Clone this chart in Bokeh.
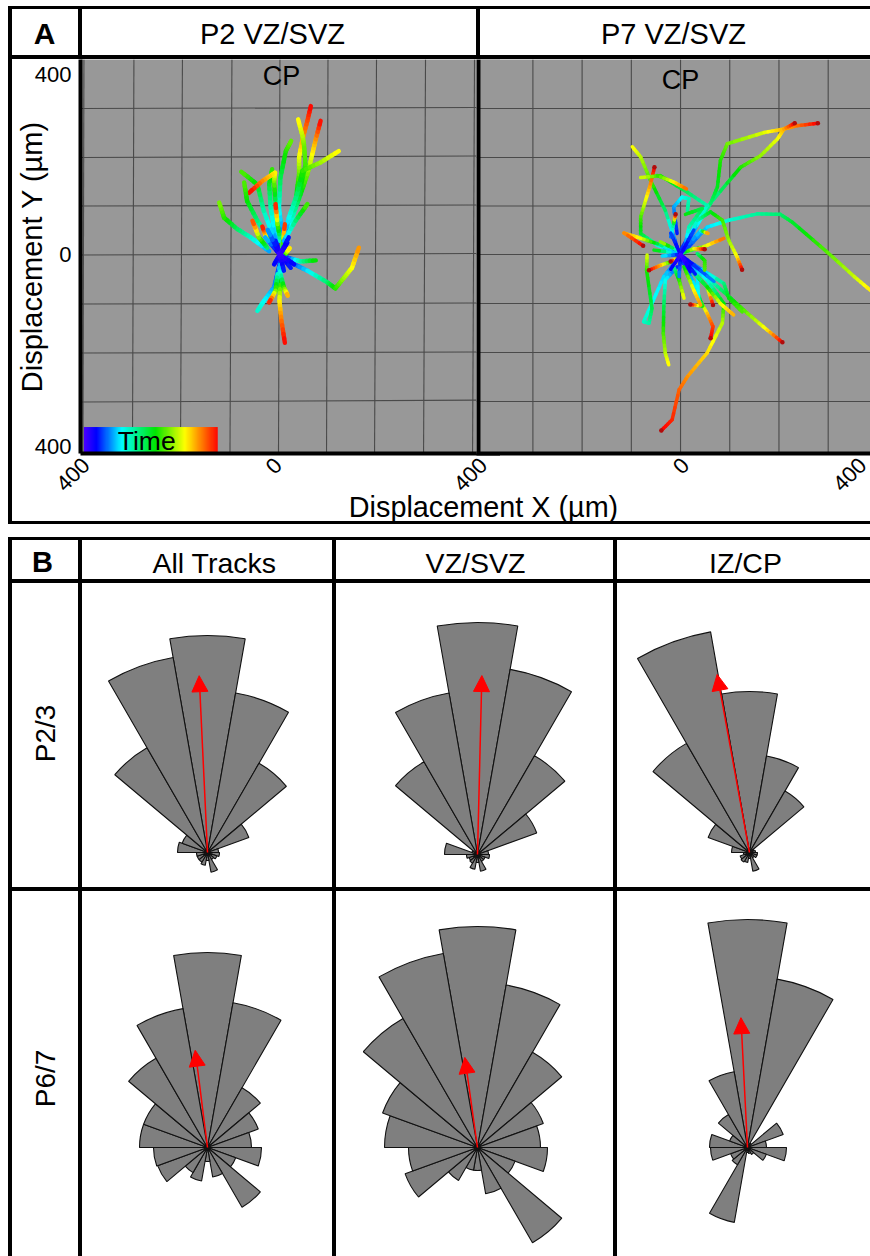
import numpy as np
from bokeh.plotting import figure
from bokeh.layouts import column, row
from bokeh.models import Spacer, FixedTicker, LinearColorMapper, Arrow, NormalHead, Span
from bokeh.embed import file_html
from bokeh.resources import INLINE
from bokeh.core.properties import value

FONT = "Liberation Sans"

# ---------------- panel A: tracks in micrometres, T = time 0..1 along the rainbow
P2_X = [[5,18,32,39,39,46,56,63],[8,25,42,56,66,73,83],[7,22,39,52,49,46,37],[8,18,35,46,83,120],
        [5,-2,1,12,23],[-9,-19,-22,-16],[-5,-33,-46,-79],[-2,-9,-12,-10,-36,-63],[-19,-46,-67,-73],
        [-22,-60,-87,-114,-124],[1,-5,-9],[-26,-43,-56],[-16,-29,-36],[5,10],
        [15,56,97,113,131,147,161],[15,42,73],[6,15,20],[1,-12,-33,-46],[0,1,-1,3,10],[-2,8,16],
        [-5,-9,-22],[8,32,56],[0,15],[0,-16],[0,22],[0,-12],[0,29],[0,8],[0,-9],[0,18],[0,-30],[0,-25]]
P2_Y = [[7,55,109,164,198,235,273,303],[14,75,123,164,205,235,273],[18,69,123,184,225,242,276],[28,75,123,171,188,211],
        [35,96,157,211,232],[35,96,143,174],[14,89,143,169],[28,103,150,167,150,126],[28,69,109,147],
        [7,35,52,75,106],[28,62,103],[14,35,69],[21,38,57],[14,62],
        [-13,-33,-57,-69,-47,-27,14],[-6,-14,-12],[-6,7,13],[-13,-67,-95,-115],[-13,-54,-95,-135,-180],[-27,-67,-84],
        [-40,-74,-98],[28,69,103],[0,24],[0,21],[0,-27],[0,-20],[0,-20],[0,-33],[0,28],[0,35],[0,35],[0,50]]
P2_T = [[.1,.25,.45,.6,.72,.83,.92,1],[.1,.3,.5,.62,.74,.84,1],[.12,.3,.48,.58,.62,.68,.76],[.12,.28,.42,.56,.66,.76],
        [.15,.3,.45,.55,.62],[.2,.35,.48,.58],[.15,.35,.5,.6],[.2,.4,.62,.75,.85,1],[.2,.4,.52,.6],
        [.2,.32,.42,.55,.64],[.3,.6,1],[.4,.6,.95],[.4,.7,1],[.4,1],
        [.1,.25,.42,.55,.66,.74,.86],[.1,.35,.55],[.2,.7,.78],[.1,.2,.28,.33],[.1,.5,.75,.88,1],[.2,.55,.85],
        [.3,.6,1],[.2,.4,.6],[0,.1],[0,.1],[0,.12],[0,.1],[0,.1],[0,.12],[0,.12],[0,.12],[0,.25],[0,.22]]

P7_X = [[7,54,98,156,203,227,298,353,386],[10,54,122,163,197,210,237,279],[14,61,75,81,95,170,210,232],
        [-7,-31,-61,-81,-98],[0,-47,-81,-81,-71,-61,-53],[0,54,14,-41,-81],[-47,-14,12],[-7,-14,3,17,14],
        [-20,-14,-10],[3,34,61,85,98,115,125],[7,17,44,10],[0,-47,-81,-115,-76],[7,47,88],[0,27,49],[3,41,56],
        [0,-34,-61,-75,-64,-58,-69,-68],[0,-20,-41,-64],[0,-20],[-7,-31,-34,-35,-31,-24],
        [14,54,88,85,54,14,-3,-17,-39],[7,31,41,54,66,61],[0,34,37,44,20],[14,68,102,136,176,207],
        [-14,-3,7],[14,54,66],[7,54,81,108],[14,88,98,125],[7,27,41],[0,-54],[0,-41],
        [0,-3],[0,27],[0,-20],[0,68],[0,-37],[34,49,49],[0,-20],[0,20],[0,30]]
P7_Y = [[5,56,70,83,82,66,5,-45,-73],[16,97,178,202,236,256,263,268],[29,104,138,192,226,249,256,268],
        [16,90,151,199,220],[2,19,43,77,111,144,178],[9,100,127,161,157],[161,148,134],[43,97,117,114,90],
        [36,63,82],[5,70,87,70,29,-5,-31],[9,56,94,82],[2,22,33,44,18],[5,16,33],[2,12,11],[5,49,43],
        [-2,-45,-106,-137,-140,-110,-32,-1],[-5,-15,-22,-32],[-5,-14],[-25,-52,-106,-161,-201,-225],
        [-12,-52,-100,-140,-201,-249,-276,-337,-359],[-18,-66,-96,-120,-147,-171],[-12,-45,-93,-105,-102],[-18,-59,-89,-120,-154,-179],
        [-25,-52,-89],[-25,-66,-103],[-12,-66,-100,-123],[-12,-59,-89,-117],[-25,-73,-103],[2,9],[5,26],
        [0,-45],[0,50],[0,44],[0,-55],[0,-3],[2,-12,-32],[0,-30],[0,-35],[0,-40]]
P7_T = [[.1,.25,.32,.38,.42,.48,.6,.7,.77],[.1,.35,.55,.65,.73,.82,.88,1],[.15,.42,.5,.55,.62,.72,.82,1],
        [.1,.42,.58,.68,.75],[.05,.3,.48,.58,.72,.85,1],[.1,.35,.43,.55,.72],[.55,.75,.9],[.1,.2,.28,.34,.38],
        [.15,.4,1],[.1,.35,.5,.58,.65,.75,1],[.1,.35,.45,.52],[.05,.45,.72,.85,1],[.2,.7,.9],[.3,.7,1],[.1,.25,.9],
        [.1,.25,.3,.33,.36,.45,.55,.72],[.1,.5,.8,1],[.3,1],[.1,.28,.45,.58,.68,.76],
        [.1,.3,.52,.68,.78,.85,.9,.96,1],[.1,.28,.5,.8,.93,1],[.1,.25,.3,.5,1],[.15,.35,.5,.62,.76,1],
        [.35,.55,.75],[.3,.6,1],[.2,.5,.72,.83],[.1,.4,.52,.6],[.5,.75,.85],[.1,.55],[.2,.7],
        [.05,.2],[.05,.15],[.05,.15],[.05,.2],[.05,.28],[.4,.55,.6],[0,.1],[0,.08],[0,.12]]

RAINBOW_POS = [0, .09, .28, .53, .75, .86, 1]
RAINBOW_RGB = [(72,0,255),(0,0,255),(0,255,255),(0,230,0),(255,255,0),(255,140,0),(255,0,0)]

GRID_V_TOP = [-400,-298,-199,-98,0,98,197,297,397]
GRID_V_BOT = [-402,-301,-203,-102,-3,95,193,293,393]
GRID_H_LEFT = [298,198,99,-1,-101,-201,-301]
GRID_H_RIGHT = [300,201,101,2,-99,-199,-297]
GRID7_V = [-300,-200,-100,0,100,200,300]
GRID7_H = [298,198,99,0,-100,-200,-300]

# ---------------- panel B: 18 bins of 20 deg, clockwise from north, radii
BIN_DEG = list(range(0, 360, 20))
R_P23_ALL = [217,162,103,44,11,12,10,8,20,8,13,11,11,11,30,27,121,198]
R_P23_VZ  = [232,188,114,63,11,12,8,8,17,8,15,10,9,11,33,6,107,164]
R_P23_IZ  = [161,98,71,5,6,8,8,6,19,6,10,11,10,6,18,44,126,224]
R_P67_ALL = [195,147,69,54,44,54,30,69,30,14,34,29,53,54,68,68,103,141]
R_P67_VZ  = [221,165,110,70,63,70,40,110,47,23,23,38,77,69,93,101,149,197]
R_P67_IZ  = [228,171,5,38,19,39,20,8,6,5,76,20,18,37,38,19,38,77]
ARROW_DEG = [-2.7, 1.4, -10.3, -7.2, -8.0, -2.9]
ARROW_LEN = [177, 179, 181, 98, 91, 130]

A_HEADERS = ["A", "P2 VZ/SVZ", "P7 VZ/SVZ"]
B_COLUMNS = ["B", "All Tracks", "VZ/SVZ", "IZ/CP"]
B_ROWS = ["P2/3", "P6/7"]


def rule(w, h):
    return Spacer(width=w, height=h, styles={"background-color": "black"})


def gap(w, h):
    return Spacer(width=w, height=h)


def cell(x0, y0, x1, y1, texts, clear=False):
    p = figure(width=x1 - x0, height=y1 - y0, x_range=(x0, x1), y_range=(y1, y0),
               x_axis_type=None, y_axis_type=None, toolbar_location=None,
               output_backend="svg", min_border=0, outline_line_color=None)
    p.grid.visible = False
    if clear:
        p.border_fill_color = None
        p.background_fill_color = None
    for tx, ty, s, size, bold, ang in texts:
        p.text([tx], [ty], text=[s], text_font=value(FONT), text_font_size=size,
               text_font_style="bold" if bold else "normal", angle=ang,
               text_align="center", text_baseline="middle", text_color="black")
    return p


def rainbow(t):
    return tuple(int(round(np.interp(t, RAINBOW_POS, [c[i] for c in RAINBOW_RGB]))) for i in range(3))


def draw_tracks(p, xs, ys, ts, lw, dots):
    x0, y0, x1, y1, col = [], [], [], [], []
    ex, ey = [], []
    for X, Y, T in zip(xs, ys, ts):
        for i in range(len(X) - 1):
            for a, b in zip(np.linspace(0, 1, 6)[:-1], np.linspace(0, 1, 6)[1:]):
                x0.append(X[i] + a * (X[i+1] - X[i])); y0.append(Y[i] + a * (Y[i+1] - Y[i]))
                x1.append(X[i] + b * (X[i+1] - X[i])); y1.append(Y[i] + b * (Y[i+1] - Y[i]))
                r, g, bl = rainbow(T[i] + (a + b) / 2 * (T[i+1] - T[i]))
                col.append(f"#{r:02x}{g:02x}{bl:02x}")
        if T[-1] >= 1:
            ex.append(X[-1]); ey.append(Y[-1])
    p.segment(x0, y0, x1, y1, line_color=col, line_width=lw, line_cap="round")
    if dots:
        p.scatter(ex, ey, size=4.5, fill_color="#b00c0c", line_color=None)


def panel_a(x_range, width, left, xticks, xlabels, yticks=None):
    p = figure(width=width, height=454, x_range=x_range, y_range=(-406, 398),
               toolbar_location=None, output_backend="svg",
               y_axis_location="left" if yticks else None,
               min_border_left=left, min_border_right=0, min_border_top=0, min_border_bottom=60,
               background_fill_color="#989898", border_fill_color=None, outline_line_color=None)
    p.grid.visible = False
    ax = p.xaxis[0]
    ax.ticker = FixedTicker(ticks=xticks)
    ax.major_label_overrides = dict(zip(xticks, xlabels))
    ax.major_label_orientation = 0.785
    ax.major_label_text_font = FONT
    ax.major_label_text_font_size = "22px"
    ax.major_label_text_color = "black"
    ax.major_label_standoff = 2
    ax.major_tick_line_color = None
    ax.minor_tick_line_color = None
    ax.axis_line_color = "black"
    ax.axis_line_width = 4
    if yticks:
        ay = p.yaxis[0]
        ay.minor_tick_line_color = None
        ay.major_tick_line_color = None
        ay.axis_line_color = "black"
        ay.axis_line_width = 4
        ay.ticker = FixedTicker(ticks=yticks)
        ay.major_label_overrides = {t: str(abs(l)) for t, l in zip(yticks, [400, 0, 400])}
        ay.major_label_text_font = FONT
        ay.major_label_text_font_size = "22px"
        ay.major_label_text_color = "black"
        ay.major_label_standoff = 3
        ay.axis_label = "Displacement Y (µm)"
        ay.axis_label_text_font = FONT
        ay.axis_label_text_font_style = "normal"
        ay.axis_label_text_font_size = "29px"
        ay.axis_label_text_color = "black"
        ay.axis_label_standoff = -16
    return p


def rose(x0, y0, x1, y1, cx, cy, radii, adeg, alen):
    p = figure(width=x1 - x0, height=y1 - y0, x_range=(x0 - cx, x1 - cx), y_range=(cy - y1, cy - y0),
               x_axis_type=None, y_axis_type=None, toolbar_location=None,
               output_backend="svg", min_border=0, outline_line_color=None)
    p.grid.visible = False
    mid = np.radians(90 - np.array(BIN_DEG, dtype=float))
    half = np.radians(10)
    p.wedge(x=[0] * len(radii), y=[0] * len(radii), radius=radii,
            start_angle=mid - half, end_angle=mid + half,
            fill_color="#7f7f7f", line_color="#111111", line_width=1.1)
    th = np.radians(adeg)
    p.add_layout(Arrow(end=NormalHead(size=16, fill_color="#ff0000", line_color="#ff0000"),
                       x_start=0, y_start=0, x_end=alen * np.sin(th), y_end=alen * np.cos(th),
                       line_color="#ff0000", line_width=1.5))
    return p


# ---- panel A
a1 = panel_a((-407, 450), 500, 80, [-396, -4, 415], ["400", "0", "400"], yticks=[368, 0, -392])
a1.margin = (0, 0, -21, -12)
a1.segment(GRID_V_TOP, [398] * 9, GRID_V_BOT, [-406] * 9, line_color="#4a4a4a", line_width=1.1)
a1.segment([-407] * 7, GRID_H_LEFT, [401] * 7, GRID_H_RIGHT, line_color="#4a4a4a", line_width=1.1)
draw_tracks(a1, P2_X, P2_Y, P2_T, 4.4, False)
grad = np.linspace(0, 1, 256)[None, :]
pal = ["#%02x%02x%02x" % rainbow(t) for t in np.linspace(0, 1, 256)]
a1.image(image=[grad], x=-400, y=-404, dw=273, dh=52,
         color_mapper=LinearColorMapper(palette=pal, low=0, high=1))
a1.text([-272], [-381], text=["Time"], text_font=value(FONT), text_font_size="26.5px",
        text_align="center", text_baseline="middle", text_color="black")
a1.text([3], [365], text=["CP"], text_font=value(FONT), text_font_size="27px",
        text_align="center", text_baseline="middle", text_color="black")

a2 = panel_a((-414.6, 386), 394, 0, [10, 370], ["0", "400"])
a2.margin = (0, 0, -21, -24)
a2.segment(GRID7_V, [398] * 7, GRID7_V, [-406] * 7, line_color="#4a4a4a", line_width=1.1)
a2.segment([-414.6] * 7, GRID7_H, [386] * 7, GRID7_H, line_color="#4a4a4a", line_width=1.1)
a2.add_layout(Span(location=-410.6, dimension="height", line_color="black", line_width=4))
draw_tracks(a2, P7_X, P7_Y, P7_T, 3.5, True)
a2.text([0], [356], text=["CP"], text_font=value(FONT), text_font_size="27px",
        text_align="center", text_baseline="middle", text_color="black")

header_a = row(rule(4, 46),
               cell(12, 9, 78, 55, [(44, 33, A_HEADERS[0], "30px", True, 0)]),
               rule(4, 46),
               cell(82, 9, 476, 55, [(272, 33, A_HEADERS[1], "29px", False, 0)]),
               rule(4, 46),
               cell(480, 9, 870, 55, [(673, 33, A_HEADERS[2], "29px", False, 0)]))
xlabel = cell(12, 488, 870, 523, [(483, 506, "Displacement X (µm)", "28.8px", False, 0)], clear=True)
xlabel.margin = (-4, 0, -2, 0)

# ---- panel B
header_b = row(rule(4, 39),
               cell(12, 540, 78, 579, [(42, 561, B_COLUMNS[0], "29px", True, 0)]),
               rule(4, 39),
               cell(82, 540, 332, 579, [(214, 562, B_COLUMNS[1], "28.5px", False, 0)]),
               rule(4, 39),
               cell(336, 540, 613, 579, [(475, 562, B_COLUMNS[2], "28.5px", False, 0)]),
               rule(4, 39),
               cell(617, 540, 870, 579, [(745, 562, B_COLUMNS[3], "28.5px", False, 0)]))

row_1 = row(rule(4, 304),
            cell(12, 583, 78, 887, [(45, 733, B_ROWS[0], "28px", False, np.pi / 2)]),
            rule(4, 304),
            rose(82, 583, 332, 887, 207, 852, R_P23_ALL, ARROW_DEG[0], ARROW_LEN[0]),
            rule(4, 304),
            rose(336, 583, 613, 887, 477, 854, R_P23_VZ, ARROW_DEG[1], ARROW_LEN[1]),
            rule(4, 304),
            rose(617, 583, 870, 887, 749, 852, R_P23_IZ, ARROW_DEG[2], ARROW_LEN[2]))
row_2 = row(rule(4, 365),
            cell(12, 891, 78, 1256, [(45, 1078, B_ROWS[1], "28px", False, np.pi / 2)]),
            rule(4, 365),
            rose(82, 891, 332, 1256, 207, 1147, R_P67_ALL, ARROW_DEG[3], ARROW_LEN[3]),
            rule(4, 365),
            rose(336, 891, 613, 1256, 477, 1147, R_P67_VZ, ARROW_DEG[4], ARROW_LEN[4]),
            rule(4, 365),
            rose(617, 891, 870, 1256, 747, 1147, R_P67_IZ, ARROW_DEG[5], ARROW_LEN[5]))

page = column(rule(862, 3), header_a, rule(862, 4),
              row(rule(4, 433), a1, a2),
              row(rule(4, 29), xlabel),
              rule(862, 3), gap(862, 13), rule(862, 3),
              header_b, rule(862, 4), row_1, rule(862, 4), row_2,
              margin=(6, 0, 0, 8))

open("out.html", "w").write(file_html(page, INLINE))
